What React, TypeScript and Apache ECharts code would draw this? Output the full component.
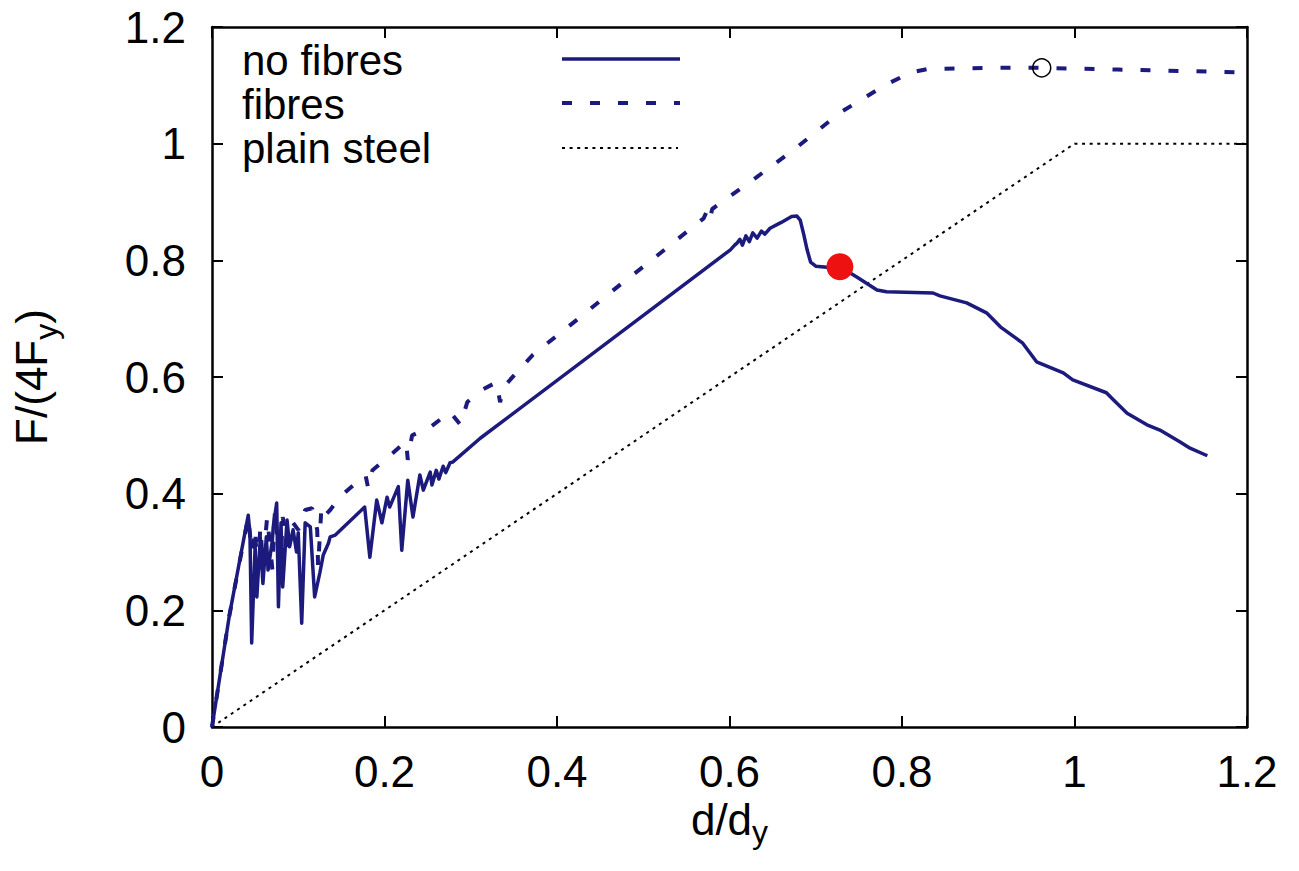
import React, { useEffect, useRef } from "react";
import * as echarts from "echarts";

// x tick values and y tick values
const xTicks = [0, 0.2, 0.4, 0.6, 0.8, 1, 1.2];
const yTicks = [0, 0.2, 0.4, 0.6, 0.8, 1, 1.2];

const legendNames = ["no fibres", "fibres", "plain steel"];

// no fibres (solid)
const noFibres: [number, number][] = [
  [0, 0], [0.02, 0.19], [0.042, 0.363], [0.044, 0.332], [0.046, 0.144], [0.05, 0.31],
  [0.052, 0.223], [0.056, 0.324], [0.059, 0.246], [0.063, 0.326], [0.065, 0.269],
  [0.07, 0.32], [0.071, 0.343], [0.075, 0.384], [0.077, 0.206], [0.08, 0.35],
  [0.082, 0.24], [0.087, 0.355], [0.09, 0.309], [0.094, 0.338], [0.098, 0.3],
  [0.1, 0.333], [0.104, 0.178], [0.108, 0.35], [0.114, 0.343], [0.119, 0.223],
  [0.125, 0.264], [0.129, 0.295], [0.135, 0.315], [0.137, 0.326], [0.143, 0.329],
  [0.177, 0.377], [0.183, 0.291], [0.191, 0.389], [0.197, 0.35], [0.203, 0.394],
  [0.206, 0.377], [0.216, 0.412], [0.22, 0.303], [0.227, 0.423], [0.233, 0.36],
  [0.241, 0.432], [0.245, 0.406], [0.253, 0.437], [0.255, 0.415], [0.26, 0.44],
  [0.263, 0.425], [0.268, 0.447], [0.271, 0.436], [0.276, 0.453], [0.279, 0.454],
  [0.311, 0.495], [0.601, 0.818], [0.606, 0.826], [0.609, 0.83], [0.612, 0.836],
  [0.615, 0.826], [0.619, 0.842], [0.623, 0.832], [0.627, 0.847], [0.632, 0.838],
  [0.637, 0.85], [0.641, 0.845], [0.647, 0.855], [0.66, 0.865], [0.672, 0.875],
  [0.678, 0.876], [0.682, 0.869], [0.686, 0.845], [0.69, 0.818], [0.694, 0.797],
  [0.7, 0.79], [0.713, 0.788], [0.728, 0.789], [0.748, 0.771], [0.771, 0.749],
  [0.782, 0.746], [0.836, 0.744], [0.844, 0.739], [0.875, 0.727], [0.898, 0.71],
  [0.914, 0.686], [0.94, 0.658], [0.956, 0.626], [0.987, 0.607], [0.998, 0.595],
  [1.037, 0.573], [1.045, 0.561], [1.061, 0.538], [1.084, 0.518], [1.099, 0.509],
  [1.122, 0.489], [1.134, 0.478], [1.154, 0.465],
];

// fibres (dashed)
const fibres: [number, number][] = [
  [0, 0], [0.02, 0.19], [0.042, 0.36], [0.046, 0.3], [0.05, 0.34], [0.053, 0.25],
  [0.056, 0.343], [0.059, 0.281], [0.064, 0.36], [0.07, 0.27], [0.073, 0.372],
  [0.079, 0.257], [0.082, 0.36], [0.087, 0.309], [0.094, 0.35], [0.1, 0.338],
  [0.108, 0.372], [0.116, 0.375], [0.122, 0.338], [0.123, 0.274], [0.127, 0.38],
  [0.133, 0.366], [0.137, 0.372], [0.148, 0.394], [0.168, 0.42], [0.178, 0.432],
  [0.181, 0.41], [0.186, 0.44], [0.21, 0.47], [0.225, 0.49], [0.227, 0.458],
  [0.232, 0.5], [0.253, 0.514], [0.276, 0.54], [0.288, 0.518], [0.296, 0.557],
  [0.313, 0.578], [0.33, 0.591], [0.334, 0.557], [0.34, 0.586], [0.354, 0.609],
  [0.372, 0.638], [0.423, 0.698], [0.473, 0.758], [0.5, 0.789], [0.57, 0.872],
  [0.574, 0.885], [0.577, 0.87], [0.58, 0.888], [0.63, 0.941], [0.674, 0.989],
  [0.728, 1.053], [0.78, 1.1], [0.81, 1.122], [0.83, 1.128], [0.9, 1.13],
  [0.96, 1.13], [1.05, 1.127], [1.2, 1.122],
];

// plain steel (dotted)
const plainSteel: [number, number][] = [[0, 0], [1, 1], [1.2, 1]];

// markers
const redPoint: [number, number][] = [[0.728, 0.789]];
const openPoint: [number, number][] = [[0.962, 1.13]];

const NAVY = "#1c1a7c";
const FONT = "Liberation Sans, Arial, Helvetica, sans-serif";
const FS = 44;
const LFS = 42;

export default function App() {
  const ref = useRef<HTMLDivElement>(null);
  useEffect(() => {
    const chart = echarts.init(ref.current!, null, { renderer: "svg" });
    const axisCommon = {
      min: xTicks[0],
      max: xTicks[xTicks.length - 1],
      interval: 0.2,
      splitLine: { show: false },
      axisLine: { show: true, onZero: false, lineStyle: { color: "#000", width: 2.5 } },
      axisTick: { show: true, inside: true, length: 11, lineStyle: { color: "#000", width: 2 } },
    };
    const yCommon = {
      ...axisCommon,
      min: yTicks[0],
      max: yTicks[yTicks.length - 1],
    };
    const legendY = [60, 104, 148];
    const graphic: any[] = [];
    legendNames.forEach((n, i) => {
      graphic.push({
        type: "text",
        x: 242,
        y: legendY[i],
        style: {
          text: n,
          font: `${LFS}px ${FONT}`,
          fill: "#000",
          lineHeight: 40,
          verticalAlign: "middle",
          align: "left",
        },
      });
    });
    graphic.push({
      type: "line",
      shape: { x1: 562, y1: legendY[0] - 1, x2: 680, y2: legendY[0] - 1 },
      style: { stroke: NAVY, lineWidth: 3.5 },
    });
    graphic.push({
      type: "line",
      shape: { x1: 562, y1: legendY[1] - 1, x2: 680, y2: legendY[1] - 1 },
      style: { stroke: NAVY, lineWidth: 4, lineDash: [10, 18] },
    });
    graphic.push({
      type: "line",
      shape: { x1: 562, y1: legendY[2], x2: 678, y2: legendY[2] },
      style: { stroke: "#000", lineWidth: 2, lineDash: [3, 4.6] },
    });

    chart.setOption({
      animation: false,
      backgroundColor: "#fff",
      textStyle: { fontFamily: FONT },
      grid: {
        left: 212,
        right: 52,
        top: 27,
        bottom: 144,
        containLabel: false,
        outerBoundsMode: "none",
      },
      xAxis: [
        {
          ...axisCommon,
          type: "value",
          position: "bottom",
          axisLabel: { fontSize: FS, color: "#000", margin: 22, fontFamily: FONT },
          name: "{n|d/d}{s|y}",
          nameLocation: "middle",
          nameGap: 64,
          nameTextStyle: {
            rich: {
              n: { fontSize: FS, lineHeight: 56, color: "#000", fontFamily: FONT, verticalAlign: "middle" },
              s: { fontSize: 32, lineHeight: 30, color: "#000", fontFamily: FONT, verticalAlign: "bottom" },
            },
          },
        },
        {
          ...axisCommon,
          type: "value",
          position: "top",
          axisLabel: { show: false },
        },
      ],
      yAxis: [
        {
          ...yCommon,
          type: "value",
          position: "left",
          axisLabel: { fontSize: FS, color: "#000", margin: 26, fontFamily: FONT },
          name: "{n|F/(4F}{s|y}{n|)}",
          nameLocation: "middle",
          nameGap: 158,
          nameRotate: 90,
          nameTextStyle: {
            rich: {
              n: { fontSize: FS, lineHeight: 46, color: "#000", fontFamily: FONT, verticalAlign: "middle" },
              s: {
                fontSize: 32,
                lineHeight: 30,
                padding: [22, 0, 0, 0],
                color: "#000",
                fontFamily: FONT,
                verticalAlign: "top",
              },
            },
          },
        },
        {
          ...yCommon,
          type: "value",
          position: "right",
          axisLabel: { show: false },
        },
      ],
      series: [
        {
          name: legendNames[2],
          type: "line",
          data: plainSteel,
          showSymbol: false,
          lineStyle: { color: "#000", width: 2, type: [3, 4.6] },
          z: 2,
        },
        {
          name: legendNames[1],
          type: "line",
          data: fibres,
          showSymbol: false,
          lineStyle: { color: NAVY, width: 4, type: [10, 18] },
          z: 3,
        },
        {
          name: legendNames[0],
          type: "line",
          data: noFibres,
          showSymbol: false,
          lineStyle: { color: NAVY, width: 3.5, join: "round" },
          z: 4,
        },
        {
          type: "scatter",
          data: redPoint,
          symbol: "circle",
          symbolSize: 27,
          itemStyle: { color: "#ee1111", opacity: 1 },
          z: 5,
        },
        {
          type: "scatter",
          data: openPoint,
          symbol: "circle",
          symbolSize: 18,
          itemStyle: { color: "rgba(0,0,0,0)", borderColor: "#000", borderWidth: 1.5, opacity: 1 },
          z: 5,
        },
      ],
      graphic,
    });
    return () => chart.dispose();
  }, []);
  return (
    <div
      ref={ref}
      style={{ position: "fixed", left: 0, top: 0, width: 1299, height: 871, background: "#fff" }}
    />
  );
}
